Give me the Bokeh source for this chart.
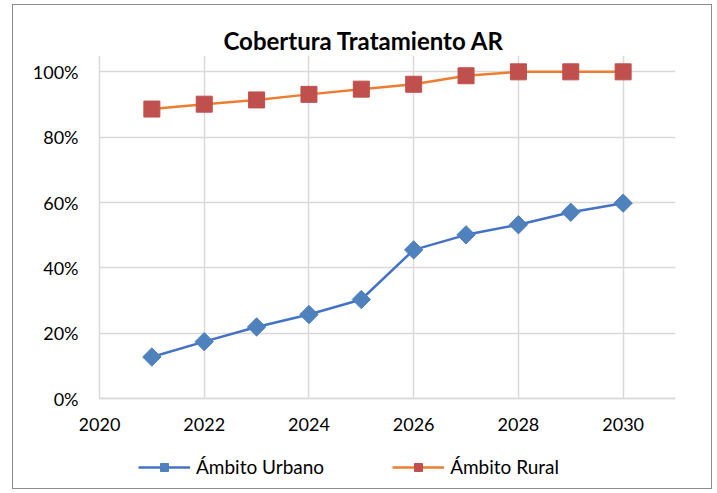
import math
from bokeh.plotting import figure
from bokeh.models import FixedTicker, NumeralTickFormatter, Legend, LegendItem, Range1d
from bokeh.embed import file_html
from bokeh.resources import INLINE

years = [2021, 2022, 2023, 2024, 2025, 2026, 2027, 2028, 2029, 2030]
urbano = [0.127, 0.174, 0.219, 0.257, 0.303, 0.455, 0.501, 0.532, 0.570, 0.598]
rural = [0.886, 0.901, 0.914, 0.931, 0.947, 0.962, 0.988, 1.0, 1.0, 1.0]
x_ticks = [2020, 2022, 2024, 2026, 2028, 2030]
y_ticks = [0, 0.2, 0.4, 0.6, 0.8, 1.0]
X_MIN, X_MAX = 2020, 2031
Y_TOP = 1.05

FONT = "Lato"

# plot area: 576 x 343 px; an extra strip left (tick-label room) and below (legend)
PLOT_W, PLOT_H = 576, 343
EXTRA_W, EXTRA_H = 20, 90
x_start = X_MIN - (X_MAX - X_MIN) * EXTRA_W / PLOT_W
y_bottom = -Y_TOP * EXTRA_H / PLOT_H

p = figure(frame_width=PLOT_W + EXTRA_W, frame_height=PLOT_H + EXTRA_H,
           output_backend="svg", toolbar_location=None,
           x_range=Range1d(x_start, X_MAX), y_range=Range1d(y_bottom, Y_TOP),
           min_border_left=66, min_border_right=36, min_border_top=50, min_border_bottom=0)
p.styles = {"border": "1px solid #8c8c8c", "margin-left": "12px", "margin-top": "4px"}
p.outline_line_color = None

p.title.text = "Cobertura Tratamiento AR"
p.title.align = "left"
p.title.offset = 144
p.title.text_font = FONT
p.title.text_font_size = "24px"
p.title.text_font_style = "bold"
p.title.text_color = "#000000"
p.title.standoff = 2

for ax in (p.xaxis[0], p.yaxis[0]):
    ax.axis_line_color = "#d9d9d9"
    ax.axis_line_width = 1.5
    ax.major_tick_line_color = None
    ax.minor_tick_line_color = None
    ax.major_tick_out = 0
    ax.major_tick_in = 0
    ax.minor_tick_out = 0
    ax.minor_tick_in = 0
    ax.major_label_text_font = FONT
    ax.major_label_text_font_size = "18px"
    ax.major_label_text_color = "#000000"

p.xaxis[0].ticker = FixedTicker(ticks=x_ticks)
p.xaxis[0].fixed_location = 0
p.xaxis[0].bounds = (X_MIN, X_MAX)
p.xaxis[0].major_label_standoff = 19
p.yaxis[0].ticker = FixedTicker(ticks=y_ticks)
p.yaxis[0].axis_line_color = None
p.yaxis[0].formatter = NumeralTickFormatter(format="0%")
p.yaxis[0].major_label_standoff = 1

p.xgrid.ticker = FixedTicker(ticks=x_ticks)
p.ygrid.ticker = FixedTicker(ticks=y_ticks)
p.xgrid.cross_bounds = (0, Y_TOP)
p.ygrid.cross_bounds = (X_MIN, X_MAX)
p.xgrid.grid_line_color = "#d9d9d9"
p.ygrid.grid_line_color = "#d9d9d9"
p.xgrid.grid_line_width = 1.5
p.ygrid.grid_line_width = 1.5

lu = p.line(years, urbano, line_color="#4472c4", line_width=2.5)
su = p.scatter(years, urbano, marker="square", angle=math.pi / 4, size=13,
               fill_color="#4f81bd", line_color="#4f81bd")
lr = p.line(years, rural, line_color="#ed7d31", line_width=2.5)
sr = p.scatter(years, rural, marker="square", size=16, fill_color="#c0504d", line_color="#c0504d")

legend = Legend(items=[LegendItem(label="Ámbito Urbano", renderers=[lu, su]),
                       LegendItem(label="Ámbito Rural", renderers=[lr, sr])],
                orientation="horizontal", location=(59, 10))
legend.border_line_color = None
legend.background_fill_alpha = 0
legend.label_text_font = FONT
legend.label_text_font_size = "19px"
legend.label_text_color = "#000000"
legend.glyph_width = 52
legend.label_standoff = 6
legend.spacing = 68
legend.margin = 0
legend.padding = 6
p.add_layout(legend, "center")

open("out.html", "w").write(file_html(p, INLINE))
